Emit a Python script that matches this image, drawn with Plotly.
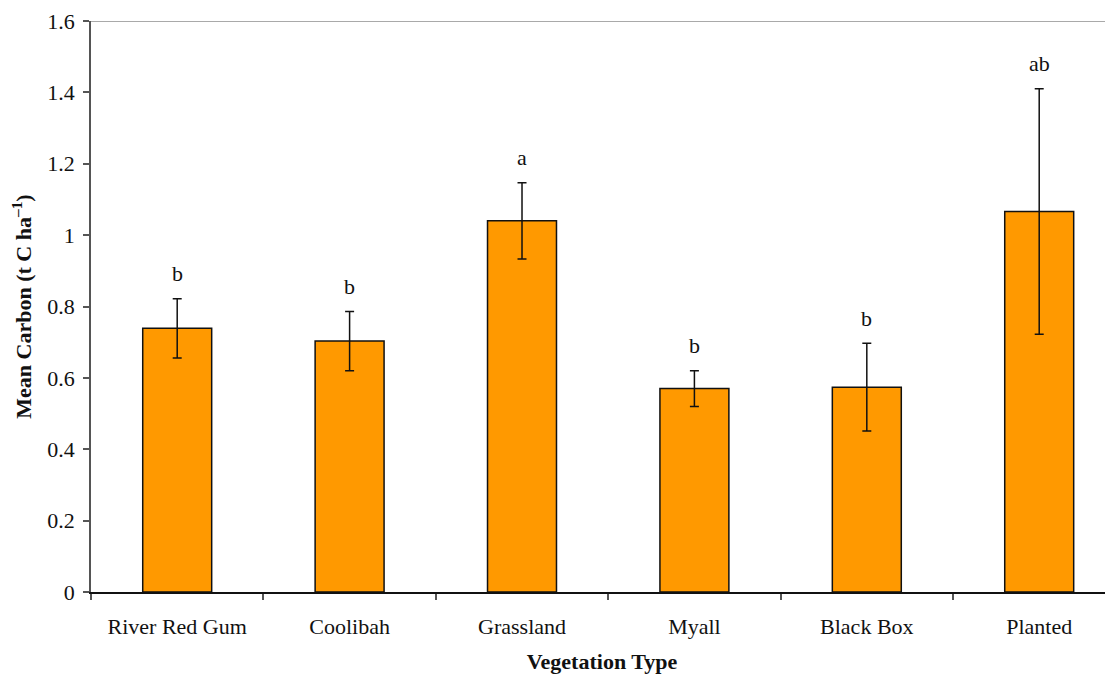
import plotly.graph_objects as go

categories = ["River Red Gum", "Coolibah", "Grassland", "Myall", "Black Box", "Planted"]
mean_carbon = [0.739, 0.703, 1.040, 0.570, 0.574, 1.066]
std_error = [0.083, 0.083, 0.107, 0.050, 0.123, 0.344]
letters = ["b", "b", "a", "b", "b", "ab"]
y_ticks = [0, 0.2, 0.4, 0.6, 0.8, 1.0, 1.2, 1.4, 1.6]
y_tick_labels = ["0", "0.2", "0.4", "0.6", "0.8", "1", "1.2", "1.4", "1.6"]

FONT = "Liberation Serif, Times New Roman, serif"
FS = 22

fig = go.Figure()
fig.add_trace(go.Bar(
    x=categories,
    y=mean_carbon,
    width=0.4,
    marker=dict(color="#FF9900", line=dict(color="#111111", width=1.5)),
    error_y=dict(type="data", array=std_error, visible=True,
                 color="#111111", thickness=1.5, width=4.5),
    showlegend=False,
))

for cat, m, e, lab in zip(categories, mean_carbon, std_error, letters):
    fig.add_annotation(x=cat, y=m + e, text=lab, showarrow=False,
                       yanchor="middle", yshift=25,
                       font=dict(family=FONT, size=FS, color="#111111"))

# thin grey frame line at the top of the plot area
fig.add_shape(type="line", xref="paper", yref="y", x0=0, x1=1, y0=1.6, y1=1.6,
              line=dict(color="#8c8c8c", width=1.5))

fig.update_layout(
    width=1105, height=666,
    margin=dict(l=83, r=0, t=13, b=82),
    paper_bgcolor="white", plot_bgcolor="white",
    font=dict(family=FONT, size=FS, color="#111111"),
    bargap=0.6,
)
fig.update_xaxes(
    type="category",
    range=[-0.5, 5.428],
    showline=True, linecolor="#111111", linewidth=1.5,
    ticks="outside", tickson="boundaries", ticklen=6, tickcolor="#555555", tickwidth=1.5,
    ticklabelstandoff=14,
    tickfont=dict(family=FONT, size=FS, color="#111111"),
    showgrid=False, zeroline=False,
    title=dict(text="<b>Vegetation Type</b>", font=dict(family=FONT, size=FS, color="#111111"),
               standoff=16),
    automargin=False,
)
fig.update_yaxes(
    range=[0, 1.6],
    tickvals=y_ticks, ticktext=y_tick_labels,
    showline=True, linecolor="#555555", linewidth=1.5,
    ticks="outside", ticklen=6, tickcolor="#555555", tickwidth=1.5,
    ticklabelstandoff=4,
    tickfont=dict(family=FONT, size=FS, color="#111111"),
    showgrid=False, zeroline=False,
    title=dict(text="<b>Mean Carbon (t C ha<sup>–1</sup>)</b>",
               font=dict(family=FONT, size=FS, color="#111111"), standoff=10),
    automargin=False,
)

fig.write_html("out.html")
